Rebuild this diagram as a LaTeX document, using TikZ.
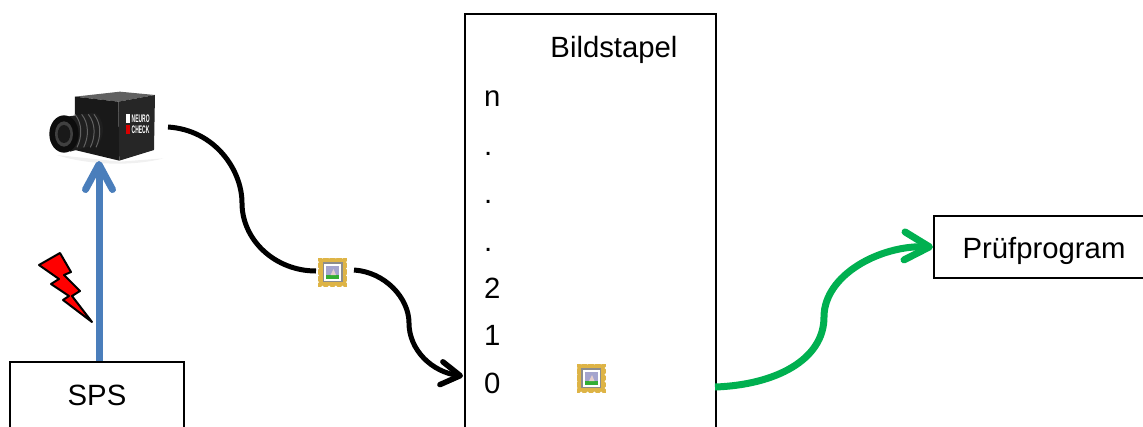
\documentclass[tikz,border=0pt]{standalone}
\usepackage{fontspec}
\setmainfont{Liberation Sans}
\usetikzlibrary{arrows.meta,shapes.geometric}
\definecolor{sblue}{RGB}{74,126,187}
\definecolor{sgreen}{RGB}{0,176,80}
\definecolor{stampgold}{RGB}{222,180,70}
\tikzset{
  every node/.style={font=\fontsize{29.3}{32}\selectfont,inner sep=0pt,text=black},
  boxstyle/.style={draw=black,line width=2pt,fill=white},
  flowline/.style={line width=5pt,draw=black},
  openhead/.style={-{Straight Barb[length=19pt,width=23pt,line width=5.5pt,round]}},
  stack/.style={anchor=base west},
  stamp/.pic={
    \fill[stampgold] (-14.5,-14.5) rectangle (14.5,14.5);
    \foreach \t in {-10,-3.4,3.4,10}{
      \fill[white] (\t,-15) circle (1.5);
      \fill[white] (\t,15) circle (1.5);
      \fill[white] (-15,\t) circle (1.5);
      \fill[white] (15,\t) circle (1.5);
    }
    \fill[black!45] (-10,-10) rectangle (10,10);
    \fill[white] (-8.5,-8.5) rectangle (8.5,8.5);
    \fill[blue!30!gray!55] (-6.5,-6.5) rectangle (6.5,3);
    \fill[green!60!black!80] (-6.5,3) rectangle (6.5,6.5);
    \fill[gray!70!red!30] (-2,3) -- (1,-3) -- (3.5,3) -- cycle;
  }
}
\begin{document}
\begin{tikzpicture}[x=1pt,y=-1pt]
\useasboundingbox (0,0) rectangle (1143,426);
\clip (0,0) rectangle (1143,426);

% boxes
\node[boxstyle,minimum width=174pt,minimum height=100pt,anchor=north west] (sps) at (9,361) {};
\node[anchor=center] (spslabel) at (97,395) {SPS};
\node[boxstyle,minimum width=251pt,minimum height=450pt,anchor=north west] (stapel) at (464,13) {};
\node[anchor=center] (stapeltitle) at (614,50) {Bildstapel};
\node[stack] (sn) at (484,106) {n};
\node[stack] (sd1) at (484,155) {.};
\node[stack] (sd2) at (484,203) {.};
\node[stack] (sd3) at (484,251) {.};
\node[stack] (s2) at (484,298) {2};
\node[stack] (s1) at (484,345) {1};
\node[stack] (s0) at (484,393) {0};
\node[boxstyle,minimum width=210pt,minimum height=62pt,anchor=north west] (pruef) at (933,215) {};
\node[anchor=center] (prueflabel) at (1044,251) {Prüfprogram};

% camera
\begin{scope}[shift={(20,70)},x=0.3333pt,y=-0.3333pt]
  \fill[black!6] (110,255) .. controls (200,285) and (340,290) .. (430,265) -- (300,275) -- cycle;
  \fill[black!62] (165,80) -- (300,65) -- (405,75) -- (295,95) -- cycle;
  \fill[black!90] (165,80) -- (295,95) -- (298,272) -- (165,240) -- cycle;
  \fill[black!85] (295,95) -- (405,75) -- (402,240) -- (298,272) -- cycle;
  \fill[black!88] (140,140) -- (225,128) .. controls (255,150) and (255,195) .. (235,222) -- (150,245) -- cycle;
  \foreach \t in {165,185,205,222}{
    \draw[black!62,line width=1pt] (\t,133) .. controls (\t+22,160) and (\t+22,200) .. (\t+6,232);
  }
  \fill[black!95] (132,192) ellipse [x radius=44,y radius=56];
  \fill[black!75] (132,192) ellipse [x radius=27,y radius=38];
  \fill[black!90] (132,192) ellipse [x radius=19,y radius=27];
  \fill[white] (319,132) rectangle (331,160);
  \fill[red!85!black] (319,165) rectangle (331,192);
  \node[font=\fontsize{11}{11}\selectfont\bfseries,text=white,anchor=west,align=left,transform shape,xscale=0.45] (camlabel) at (335,162) {NEURO\\CHECK};
\end{scope}

% lightning
\fill[red,draw=black,line width=2pt,line join=round]
  (39,265) -- (60,253) -- (71,272) -- (64,275) -- (80,291) -- (72,296) -- (92,322)
  -- (63,300) -- (69,296) -- (51,284) -- (59,279) -- cycle;

% stamps
\pic (stampa) at (332.5,272) {stamp};
\pic (stampb) at (591,378) {stamp};
\coordinate (camout) at (168,127);
\coordinate (stampin) at (316,271);
\coordinate (stampout) at (354,270);
\coordinate (camin) at (99,161);
\coordinate (stackin) at (463,376);
\coordinate (stackout) at (715,387);

% connectors
\draw[line width=7pt,draw=sblue,-{Straight Barb[length=25pt,width=27pt,line width=7pt,round]}] (sps.north -| camin) -- (camin);
\draw[flowline] (camout) .. controls (215,130) and (242,170) .. (242,203) .. controls (242,240) and (275,271) .. (stampin);
\draw[flowline,openhead] (stampout) .. controls (385,272) and (409,298) .. (409,323) .. controls (409,350) and (432,372) .. (stackin);
\draw[line width=7pt,draw=sgreen,-{Straight Barb[length=25pt,width=28pt,line width=7pt,round]}] (stackout) .. controls (775,385) and (824,360) .. (824,317) .. controls (824,275) and (880,245) .. (pruef.west);
\end{tikzpicture}
\end{document}
